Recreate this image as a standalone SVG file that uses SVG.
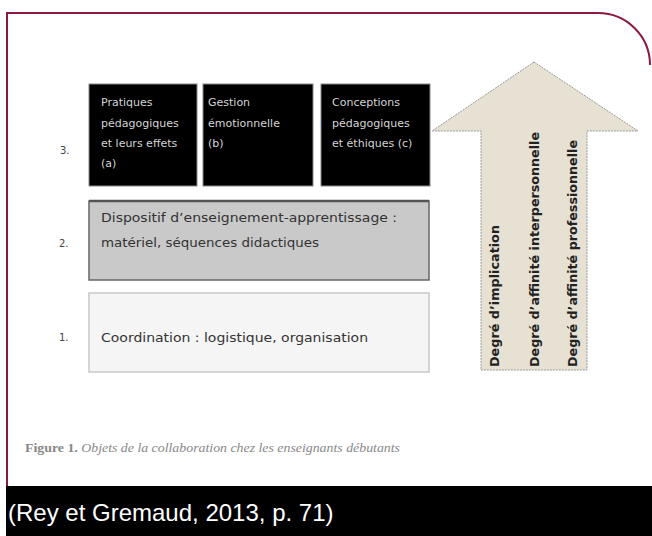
<svg xmlns="http://www.w3.org/2000/svg" width="652" height="536" viewBox="0 0 652 536">
  <defs>
    <style>
      .frame { fill: none; stroke: #8a1a40; stroke-width: 2; }
      .lvl { font-family: "DejaVu Sans", Verdana, sans-serif; font-size: 10px; fill: #444; }
      .dark { fill: #000; stroke: #888; stroke-width: 1; }
      .wt { font-family: "DejaVu Sans", Verdana, sans-serif; font-size: 11px; fill: #d4d4d4; }
      .bt { font-family: "DejaVu Sans", Verdana, sans-serif; font-size: 12px; fill: #333; }
      .arrowtxt { font-family: "DejaVu Sans", Verdana, sans-serif; font-size: 12px; font-weight: bold; fill: #222; }
      .cap { font-family: "Liberation Serif", "Times New Roman", serif; font-size: 12px; fill: #888; }
      .src { font-family: "Liberation Sans", Arial, sans-serif; font-size: 24px; fill: #fff; }
    </style>
  </defs>

  <rect x="0" y="0" width="652" height="536" fill="#fff"/>

  <!-- slide frame -->
  <path class="frame" d="M7,486 V13 H598 A52,52 0 0 1 650,65"/>

  <!-- level 3: three black boxes -->
  <g id="level3">
    <text class="lvl" x="60" y="154">3.</text>
    <g id="box-a">
      <rect class="dark" x="89" y="84" width="108" height="102"/>
      <text class="wt" x="101" y="106">Pratiques</text>
      <text class="wt" x="101" y="127">pédagogiques</text>
      <text class="wt" x="101" y="147">et leurs effets</text>
      <text class="wt" x="101" y="167">(a)</text>
    </g>
    <g id="box-b">
      <rect class="dark" x="203" y="84" width="110" height="102"/>
      <text class="wt" x="208" y="106">Gestion</text>
      <text class="wt" x="208" y="127">émotionnelle</text>
      <text class="wt" x="208" y="147">(b)</text>
    </g>
    <g id="box-c">
      <rect class="dark" x="321" y="84" width="109" height="102"/>
      <text class="wt" x="332" y="106">Conceptions</text>
      <text class="wt" x="332" y="127">pédagogiques</text>
      <text class="wt" x="332" y="147">et éthiques (c)</text>
    </g>
  </g>

  <!-- level 2 -->
  <g id="level2">
    <text class="lvl" x="59" y="247">2.</text>
    <rect x="89" y="201" width="340" height="79" fill="#c9c9c9" stroke="#666" stroke-width="1.5"/>
    <line x1="89" y1="201" x2="429" y2="201" stroke="#555" stroke-width="2.5"/>
    <text class="bt" x="101" y="222" textLength="296" lengthAdjust="spacingAndGlyphs">Dispositif d’enseignement-apprentissage :</text>
    <text class="bt" x="101" y="247" textLength="218" lengthAdjust="spacingAndGlyphs">matériel, séquences didactiques</text>
  </g>

  <!-- level 1 -->
  <g id="level1">
    <text class="lvl" x="59" y="341">1.</text>
    <rect x="89" y="293" width="340" height="79" fill="#f5f5f5" stroke="#c8c8c8" stroke-width="1.5"/>
    <text class="bt" x="101" y="342" textLength="267" lengthAdjust="spacingAndGlyphs">Coordination : logistique, organisation</text>
  </g>

  <!-- upward arrow with its three degrees -->
  <g id="arrow">
    <path d="M534,62 L638,131 H587 V370 H481 V131 H432 Z" fill="#e6e1d2" stroke="#999" stroke-width="1" stroke-dasharray="2,1"/>
    <text class="arrowtxt" transform="translate(499,367) rotate(-90)" textLength="142" lengthAdjust="spacingAndGlyphs">Degré d’implication</text>
    <text class="arrowtxt" transform="translate(539,367) rotate(-90)" textLength="235" lengthAdjust="spacingAndGlyphs">Degré d’affinité interpersonnelle</text>
    <text class="arrowtxt" transform="translate(577,367) rotate(-90)" textLength="227" lengthAdjust="spacingAndGlyphs">Degré d’affinité professionnelle</text>
  </g>

  <!-- figure caption -->
  <g id="caption">
    <text class="cap" x="25" y="452" textLength="375" lengthAdjust="spacingAndGlyphs"><tspan font-weight="bold">Figure 1.</tspan><tspan font-style="italic"> Objets de la collaboration chez les enseignants débutants</tspan></text>
  </g>

  <!-- source bar -->
  <g id="source">
    <rect x="6" y="486" width="646" height="50" fill="#000"/>
    <text class="src" x="8" y="521">(Rey et Gremaud, 2013, p. 71)</text>
  </g>
</svg>
